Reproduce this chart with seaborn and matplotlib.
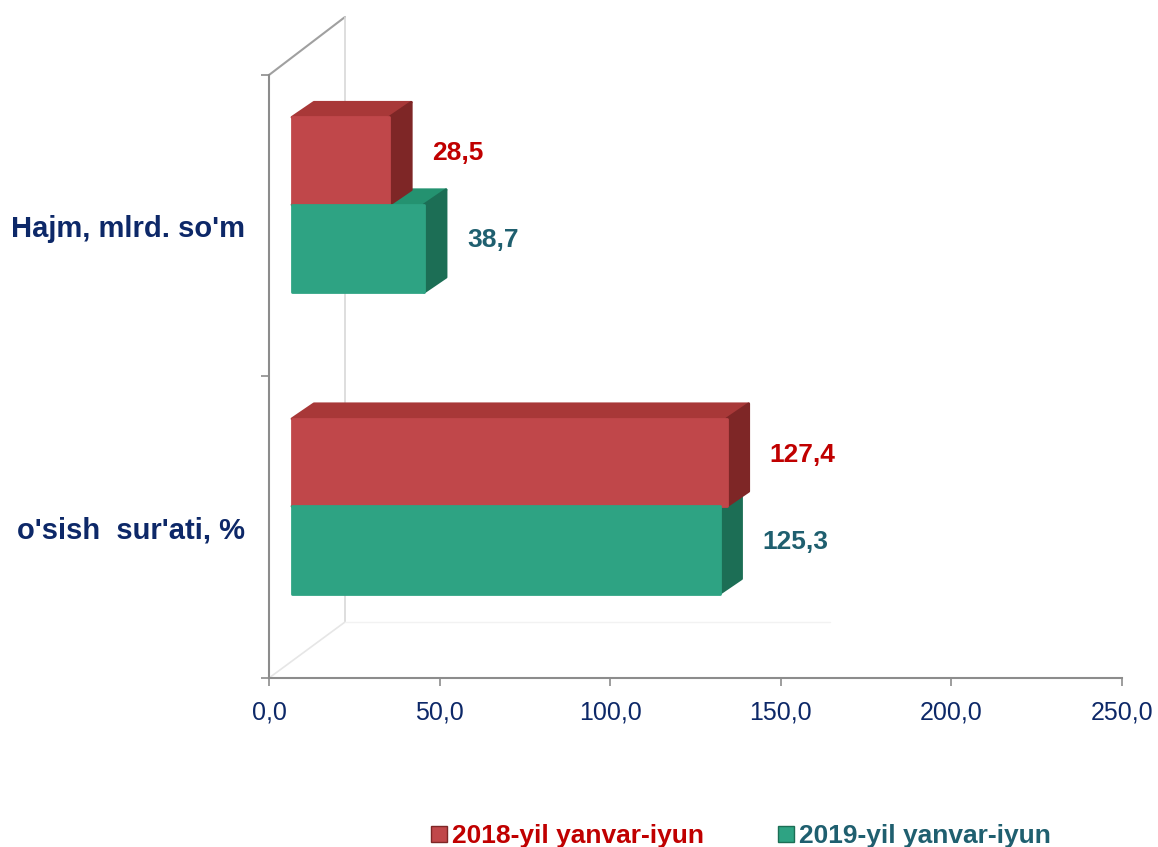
import matplotlib
matplotlib.use("Agg")
import matplotlib.pyplot as plt
from matplotlib.patches import Polygon
from matplotlib.lines import Line2D
import seaborn as sns
import pandas as pd

categories = ["Hajm, mlrd. so'm", "o'sish  sur'ati, %"]
periods = ["2018-yil yanvar-iyun", "2019-yil yanvar-iyun"]
values_2018 = [28.5, 127.4]
values_2019 = [38.7, 125.3]
value_labels_2018 = ["28,5", "127,4"]
value_labels_2019 = ["38,7", "125,3"]
x_ticks = [0, 50, 100, 150, 200, 250]
x_tick_labels = ["0,0", "50,0", "100,0", "150,0", "200,0", "250,0"]

df = pd.DataFrame({
    "category": categories * 2,
    "period": [periods[0]] * 2 + [periods[1]] * 2,
    "value": values_2018 + values_2019,
})

sns.set_style("white")
plt.rcParams['font.family'] = ["Liberation Sans", "DejaVu Sans"]

front = ["#C0474A", "#2EA383"]
top_c = ["#A83838", "#249270"]
side_c = ["#7E2626", "#1C6E55"]
label_c = ["#C00000", "#1F5F6F"]
navy = "#0D2868"

W, H = 1158, 847
fig = plt.figure(figsize=(W / 100, H / 100), dpi=100)
ax_l, ax_b, ax_w, ax_h = 269 / W, 1 - 678 / H, (1122 - 269) / W, (678 - 75) / H
ax = fig.add_axes([ax_l, ax_b, ax_w, ax_h])
ax.set_facecolor("none")

sns.barplot(data=df, y="category", x="value", hue="period", orient="h",
            palette=front, width=0.58, saturation=1, legend=False, ax=ax)
ax.set_xlim(0, 250)
ax.set_ylim(1.5, -0.5)

# px -> data units
xu = 250 / (ax_w * W)
yu = 2 / (ax_h * H)
shift_x, shift_y = 23 * xu, -21 * yu
dep_x, dep_y = 22 * xu, -15 * yu

texts = [value_labels_2018, value_labels_2019]
for i, cont in enumerate(ax.containers):
    for j, p in enumerate(cont.patches):
        p.set_x(p.get_x() + shift_x)
        p.set_y(p.get_y() + shift_y)
        p.set_zorder(3)
        p.set_edgecolor(front[i])
        p.set_joinstyle("round")
        p.set_linewidth(2)
        x0, y0 = p.get_x(), p.get_y()
        x1, y1 = x0 + p.get_width(), y0 + p.get_height()
        z = 2.5 if i == 0 else 2
        ax.add_patch(Polygon([(x0, y0), (x1, y0), (x1 + dep_x, y0 + dep_y), (x0 + dep_x, y0 + dep_y)],
                             closed=True, facecolor=top_c[i], edgecolor=top_c[i], lw=2, zorder=z,
                             joinstyle="round"))
        ax.add_patch(Polygon([(x1, y0), (x1 + dep_x, y0 + dep_y), (x1 + dep_x, y1 + dep_y), (x1, y1)],
                             closed=True, facecolor=side_c[i], edgecolor=side_c[i], lw=2, zorder=z,
                             joinstyle="round"))
        ax.text(x1 + 43 * xu, (y0 + y1) / 2 - 8 * yu, texts[i][j], color=label_c[i],
                fontsize=19, fontweight="bold", ha="left", va="center", zorder=5)

# axes styling
for s in ["top", "right"]:
    ax.spines[s].set_visible(False)
for s in ["left", "bottom"]:
    ax.spines[s].set_color("#8C8C8C")
    ax.spines[s].set_linewidth(1.5)
ax.set_xticks(x_ticks)
ax.set_xticklabels(x_tick_labels, fontsize=18, color=navy)
ax.tick_params(axis="x", bottom=True, length=6, color="#8C8C8C", width=1.2, pad=10)
ax.set_yticks([-0.5, 0.5, 1.5])
ax.set_yticklabels([])
ax.set_yticks([0, 1], minor=True)
ax.set_yticklabels(categories, minor=True, fontsize=21, fontweight="bold", color=navy)
ax.tick_params(axis="y", which="major", left=True, length=6, color="#8C8C8C", width=1.2, direction="out")
ax.tick_params(axis="y", which="minor", left=True, length=0, pad=17)
ax.set_xlabel("")
ax.set_ylabel("")

# 3D back wall
def px(x, y):
    return (x / W, 1 - y / H)
wall = [((269, 75), (345, 17), "#A0A0A0", 1.5),
        ((345, 17), (345, 622), "#D8D8D8", 1.2),
        ((269, 678), (345, 622), "#E6E6E6", 1.2),
        ((345, 622), (830, 622), "#F2F2F2", 1.0)]
for a, b, c, lw in wall:
    (xa, ya), (xb, yb) = px(*a), px(*b)
    fig.add_artist(Line2D([xa, xb], [ya, yb], color=c, lw=lw, zorder=0))

# legend
handles = [Line2D([], [], marker="s", ls="", markersize=11, markerfacecolor=front[k],
                  markeredgecolor=side_c[k]) for k in range(2)]
leg = fig.legend(handles, periods, loc="center", bbox_to_anchor=(738 / W, 1 - 836 / H),
                 ncol=2, frameon=False, columnspacing=2.6, handletextpad=0.0,
                 handlelength=1.0, prop={"weight": "bold", "size": 19})
for t, c in zip(leg.get_texts(), label_c):
    t.set_color(c)

fig.savefig("out.png", dpi=100)
